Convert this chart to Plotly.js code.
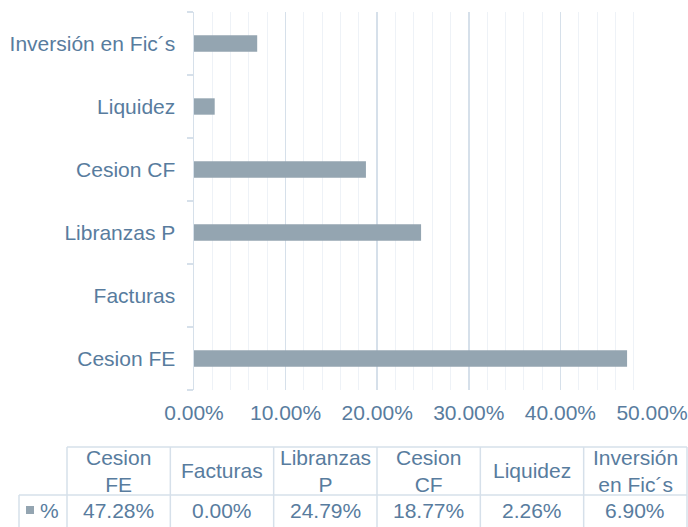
<!DOCTYPE html>
<html>
<head>
<meta charset="utf-8">
<script src="https://cdn.plot.ly/plotly-3.0.1.min.js"></script>
<style>html,body{margin:0;padding:0;background:#fff;}#chart{width:688px;height:527px;}</style>
</head>
<body>
<div id="chart"></div>
<script>
// Data
const categories = ['Cesion FE', 'Facturas', 'Libranzas P', 'Cesion CF', 'Liquidez', 'Inversión en Fic´s'];
const values = [0.4728, 0.0000, 0.2479, 0.1877, 0.0226, 0.0690];
const seriesName = '%';

// Styling
const W = 688, H = 527;
const M = {l: 194, r: 36, t: 12, b: 137};
const textColor = '#587C9E';
const barColor = '#94A5B1';
const gridMajor = '#D6E0EA';
const gridMinor = '#EEF2F7';
const tableLine = '#D6E0EA';
const FONT = '"Liberation Sans", Arial, sans-serif';
const FS = 21;

const pw = W - M.l - M.r, ph = H - M.t - M.b;
const px2x = p => (p - M.l) / pw;
const py2y = p => (H - M.b - p) / ph;

const shapes = [];
const annotations = [];

// Table geometry (pixels)
const tLeft = 67, tRight = 687, legLeft = 19;
const hTop = 447, hBot = 495, dBot = 527;
const colW = (tRight - tLeft) / categories.length;

function hline(y, x0, x1) {
  shapes.push({type: 'line', xref: 'paper', yref: 'paper', x0: px2x(x0), x1: px2x(x1), y0: py2y(y), y1: py2y(y),
    line: {color: tableLine, width: 1.5}, layer: 'above'});
}
function vline(x, y0, y1) {
  shapes.push({type: 'line', xref: 'paper', yref: 'paper', x0: px2x(x), x1: px2x(x), y0: py2y(y0), y1: py2y(y1),
    line: {color: tableLine, width: 1.5}, layer: 'above'});
}
hline(hTop, tLeft, tRight);
hline(hBot, legLeft, tRight);
for (let i = 0; i <= categories.length; i++) {
  vline(tLeft + i * colW, hTop, dBot);
}
vline(legLeft, hBot, dBot);

function wrapLabel(s) {
  if (s.length > 8 && s.indexOf(' ') > 0) {
    const k = s.indexOf(' ');
    return s.slice(0, k) + '<br>' + s.slice(k + 1);
  }
  return s;
}

categories.forEach((c, i) => {
  const cx = tLeft + (i + 0.5) * colW;
  annotations.push({xref: 'paper', yref: 'paper', x: px2x(cx), y: py2y((hTop + hBot) / 2),
    text: wrapLabel(c), showarrow: false, xanchor: 'center', yanchor: 'middle', align: 'center',
    font: {family: FONT, size: FS, color: textColor}});
  annotations.push({xref: 'paper', yref: 'paper', x: px2x(cx), y: py2y(510),
    text: (values[i] * 100).toFixed(2) + '%', showarrow: false, xanchor: 'center', yanchor: 'middle',
    font: {family: FONT, size: FS, color: textColor}});
});

// Legend key in table
shapes.push({type: 'rect', xref: 'paper', yref: 'paper', x0: px2x(26), x1: px2x(34), y0: py2y(506), y1: py2y(514),
  fillcolor: barColor, line: {width: 0}});
annotations.push({xref: 'paper', yref: 'paper', x: px2x(38), y: py2y(510),
  text: seriesName, showarrow: false, xanchor: 'left', yanchor: 'middle',
  font: {family: FONT, size: FS, color: textColor}});

const trace = {
  type: 'bar', orientation: 'h', y: categories, x: values, name: seriesName,
  marker: {color: barColor, line: {width: 0}}, width: 0.26,
  hoverinfo: 'x+y'
};

const layout = {
  width: W, height: H, margin: M,
  paper_bgcolor: '#fff', plot_bgcolor: '#fff', showlegend: false,
  font: {family: FONT, size: FS, color: textColor},
  xaxis: {range: [0, 0.5], dtick: 0.1, tick0: 0, tickformat: '.2%', showgrid: true, gridcolor: gridMajor, gridwidth: 1.5,
    minor: {dtick: 0.02, showgrid: true, gridcolor: gridMinor, gridwidth: 1},
    zeroline: false, showline: false, ticks: '', ticklabelstandoff: 8, ticklabeloverflow: 'allow',
    tickfont: {family: FONT, size: FS, color: textColor}, fixedrange: true},
  yaxis: {type: 'category', categoryorder: 'array', categoryarray: categories, showgrid: false, zeroline: false,
    showline: true, linecolor: gridMajor, linewidth: 1.5, ticks: 'outside', tickson: 'boundaries', ticklen: 6,
    tickcolor: gridMajor, tickwidth: 1.5, ticklabelstandoff: 13,
    tickfont: {family: FONT, size: FS, color: textColor}, fixedrange: true},
  shapes: shapes, annotations: annotations
};

Plotly.newPlot('chart', [trace], layout, {displayModeBar: false, staticPlot: true});
</script>
</body>
</html>
